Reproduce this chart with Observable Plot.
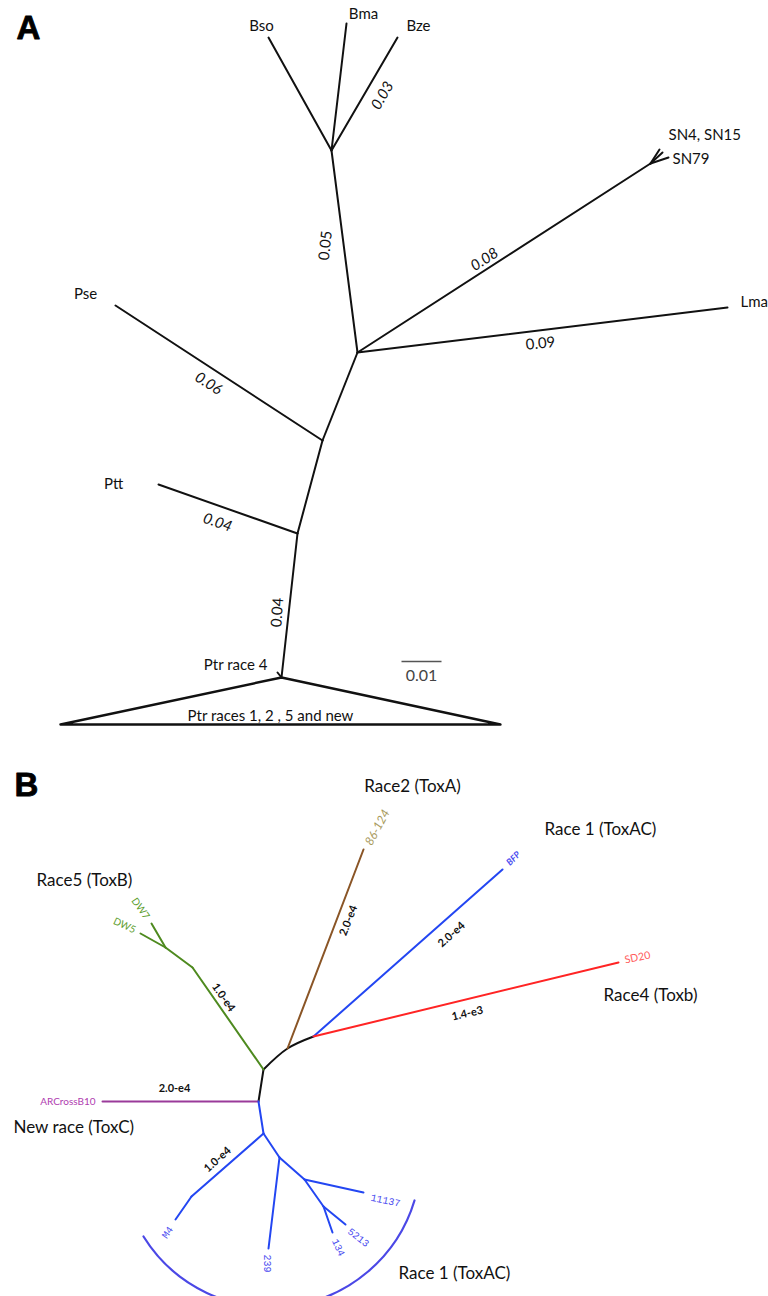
<!DOCTYPE html>
<html>
<head>
<meta charset="utf-8">
<script src="https://cdn.jsdelivr.net/npm/d3@7"></script>
<script src="https://cdn.jsdelivr.net/npm/@observablehq/plot@0.6"></script>
<style>
  html, body { margin: 0; padding: 0; background: #fff; }
  #chart { width: 768px; }
  #chart svg { display: block; }
</style>
</head>
<body>
<div id="chart"></div>
<script>
// ================= PANEL A (node positions in substitutions / site) =================
const nodesA = [
  {id: "F",    x: 0,        y: 0},
  {id: "P4",   x: -0.001,   y: 0.00125},
  {id: "E",    x: 0.004,    y: 0.036},
  {id: "Ptt",  x: -0.03075, y: 0.04825},
  {id: "D",    x: 0.01025,  y: 0.05925},
  {id: "Pse",  x: -0.0415,  y: 0.093},
  {id: "C",    x: 0.019,    y: 0.08125},
  {id: "Lma",  x: 0.1115,   y: 0.0925},
  {id: "SNf",  x: 0.09225,  y: 0.1285},
  {id: "SN4",  x: 0.0945,   y: 0.132},
  {id: "SN15", x: 0.09525,  y: 0.13125},
  {id: "SN79", x: 0.09675,  y: 0.13},
  {id: "B",    x: 0.0125,   y: 0.13175},
  {id: "Bso",  x: -0.00325, y: 0.16},
  {id: "Bma",  x: 0.01625,  y: 0.1635},
  {id: "Bze",  x: 0.029,    y: 0.16}
];
const edgesA = [
  ["F","P4"], ["F","E"], ["E","Ptt"], ["E","D"], ["D","Pse"], ["D","C"], ["C","Lma"], ["C","SNf"],
  ["SNf","SN4"], ["SNf","SN15"], ["SNf","SN79"], ["C","B"], ["B","Bso"], ["B","Bma"], ["B","Bze"]
];
// collapsed clade "Ptr races 1, 2, 5 and new"
const collapsedA = [
  {x: 0, y: 0}, {x: -0.05525, y: -0.01175}, {x: 0.05475, y: -0.01175}, {x: 0, y: 0}
];
const tipLabelsA = [
  {node: "Bso", text: "Bso"}, {node: "Bma", text: "Bma"}, {node: "Bze", text: "Bze"},
  {node: "SN4", text: "SN4, SN15"}, {node: "SN79", text: "SN79"}, {node: "Lma", text: "Lma"},
  {node: "Pse", text: "Pse"}, {node: "Ptt", text: "Ptt"}, {node: "P4", text: "Ptr race 4"},
  {node: "F", text: "Ptr races 1, 2 , 5 and new"}
];
const branchLabelsA = [
  {from: "B", to: "Bze", text: "0.03"},
  {from: "C", to: "B",   text: "0.05"},
  {from: "C", to: "SNf", text: "0.08"},
  {from: "C", to: "Lma", text: "0.09"},
  {from: "D", to: "Pse", text: "0.06"},
  {from: "E", to: "Ptt", text: "0.04"},
  {from: "F", to: "E",   text: "0.04"}
];
const scaleBarA = [{x1: 0.03, x2: 0.04, y: 0.004, text: "0.01"}];

// ================= PANEL B (layout units) =================
const nodesB = [
  {id: "R1", x: 0, y: 0}, {id: "R2", x: 24, y: 21}, {id: "R3", x: 50, y: 33},
  {id: "T86", x: 100, y: 220}, {id: "BFP", x: 239, y: 200}, {id: "SD20", x: 355, y: 107},
  {id: "Gk", x: -71, y: 102}, {id: "DWf", x: -98, y: 122}, {id: "DW7", x: -112, y: 146}, {id: "DW5", x: -123, y: 136},
  {id: "Pj", x: -5, y: -32}, {id: "ARC", x: -161, y: -32},
  {id: "N1", x: 0, y: -64}, {id: "Mk", x: -72, y: -127}, {id: "M4", x: -88, y: -150},
  {id: "N2", x: 16, y: -88}, {id: "T239", x: 5, y: -179}, {id: "N3", x: 41, y: -110},
  {id: "T11137", x: 100, y: -123}, {id: "N4", x: 60, y: -137}, {id: "T5213", x: 82, y: -155}, {id: "T134", x: 69, y: -163}
];
const backboneB = ["R1", "R2", "R3"];
const edgesB = [
  {from: "R1", to: "Pj", clade: "backbone"},
  {from: "R1", to: "Gk", clade: "Race5"}, {from: "Gk", to: "DWf", clade: "Race5"},
  {from: "DWf", to: "DW7", clade: "Race5"}, {from: "DWf", to: "DW5", clade: "Race5"},
  {from: "R2", to: "T86", clade: "Race2"},
  {from: "R3", to: "BFP", clade: "Race1"},
  {from: "R3", to: "SD20", clade: "Race4"},
  {from: "Pj", to: "ARC", clade: "New"},
  {from: "Pj", to: "N1", clade: "Race1"}, {from: "N1", to: "Mk", clade: "Race1"}, {from: "Mk", to: "M4", clade: "Race1"},
  {from: "N1", to: "N2", clade: "Race1"}, {from: "N2", to: "T239", clade: "Race1"}, {from: "N2", to: "N3", clade: "Race1"},
  {from: "N3", to: "T11137", clade: "Race1"}, {from: "N3", to: "N4", clade: "Race1"},
  {from: "N4", to: "T5213", clade: "Race1"}, {from: "N4", to: "T134", clade: "Race1"}
];
const tipLabelsB = [
  {node: "T86", text: "86-124", clade: "Race2"}, {node: "BFP", text: "BFP", clade: "Race1"},
  {node: "SD20", text: "SD20", clade: "Race4"}, {node: "DW7", text: "DW7", clade: "Race5"},
  {node: "DW5", text: "DW5", clade: "Race5"}, {node: "ARC", text: "ARCrossB10", clade: "New"},
  {node: "M4", text: "M4", clade: "Race1"}, {node: "T239", text: "239", clade: "Race1"},
  {node: "T134", text: "134", clade: "Race1"}, {node: "T5213", text: "5213", clade: "Race1"},
  {node: "T11137", text: "11137", clade: "Race1"}
];
const branchLabelsB = [
  {from: "R2", to: "T86", text: "2.0-e4"},
  {from: "R3", to: "BFP", text: "2.0-e4"},
  {from: "R3", to: "SD20", text: "1.4-e3"},
  {from: "R1", to: "Gk", text: "1.0-e4"},
  {from: "Pj", to: "ARC", text: "2.0-e4"},
  {from: "N1", to: "Mk", text: "1.0-e4"}
];
const raceLabelsB = [
  {node: "T86", text: "Race2 (ToxA)"}, {node: "BFP", text: "Race 1 (ToxAC)"},
  {node: "SD20", text: "Race4 (Toxb)"}, {node: "DW7", text: "Race5 (ToxB)"},
  {node: "ARC", text: "New race (ToxC)"}, {node: "T134", text: "Race 1 (ToxAC)"}
];
const bracketB = [{x1: -120, y1: -167, x2: 151, y2: -131}];

// ================= styles / layout (not data) =================
const cladeDomain = ["backbone", "Race5", "Race2", "Race1", "Race4", "New"];
const cladeLine   = ["#111111", "#4e8a1f", "#8a5526", "#2346f2", "#ff2424", "#9a3a9a"];
const cladeText   = {Race5: "#5e9e2e", Race2: "#a89a5c", Race1: "#4a4cf0", Race4: "#ff5a5a", New: "#b03db0"};

const tipOffA = [[-7,-11,"middle"],[17,-9,"middle"],[21,-11,"middle"],[9,-14,"start"],[4,2,"start"],
                 [13,-5,"start"],[-30,-11,"middle"],[-45,0,"middle"],[-10,-7,"end"],[-11,39,"middle"]];
const brOffA = [[18,1.5,-60,"italic"],[-19,-6,-84,"normal"],[-19.5,1.5,-33,"italic"],[-2,13.5,-6,"normal"],
                [-10.5,10.5,33,"italic"],[-10.5,13.5,19,"italic"],[-12,7,-86,"normal"]];

const tipOffB = [
  {dx: 14, dy: -22, r: -62, size: 12, font: "Lato", weight: 400, style: "italic", anchor: "middle"},
  {dx: 11, dy: -11, r: -45, size: 9, font: "Lato", weight: 700, style: "italic", anchor: "middle"},
  {dx: 19, dy: -5, r: -12, size: 10.5, font: "Lato", weight: 400, style: "normal", anchor: "middle"},
  {dx: -11, dy: -15, r: 55, size: 10, font: "Lato", weight: 400, style: "normal", anchor: "middle"},
  {dx: -16, dy: -8, r: 25, size: 10, font: "Lato", weight: 400, style: "normal", anchor: "middle"},
  {dx: -7, dy: 0, r: 0, size: 10, font: "Lato", weight: 400, style: "normal", anchor: "end"},
  {dx: -8, dy: 13, r: -55, size: 10, font: "Liberation Mono", weight: 400, style: "normal", anchor: "middle"},
  {dx: -1, dy: 15, r: 90, size: 10, font: "Liberation Mono", weight: 400, style: "normal", anchor: "middle"},
  {dx: 6, dy: 15, r: 65, size: 10, font: "Liberation Mono", weight: 400, style: "normal", anchor: "middle"},
  {dx: 13, dy: 13, r: 38, size: 10, font: "Liberation Mono", weight: 400, style: "normal", anchor: "middle"},
  {dx: 22, dy: 8, r: 12, size: 10, font: "Liberation Mono", weight: 400, style: "normal", anchor: "middle"}
];
const brOffB = [[23,-28.5,-69],[43.5,-18.5,-42],[1.5,14,-13],[-4.5,-21,55],[-6,-13,0],[-10,-5.5,-42]];
const raceOffB = [[49,-63,"middle"],[42,-40,"start"],[-15,33,"start"],[-115,-43,"start"],[-89,26,"start"],[66,41,"start"]];

// ================= build =================
const idxA = Object.fromEntries(nodesA.map(d => [d.id, d]));
const linksA = edgesA.map(([a, b]) => ({a: idxA[a], b: idxA[b]}));
const mid = (idx, d, k) => (idx[d.from][k] + idx[d.to][k]) / 2;

const plotA = Plot.plot({
  width: 768, height: 745, margin: 0,
  x: {domain: [-0.07025, 0.12175], axis: null},
  y: {domain: [-0.017, 0.16925], axis: null},
  style: {fontFamily: "Lato, sans-serif", background: "white", overflow: "visible"},
  marks: [
    Plot.link(linksA, {x1: d => d.a.x, y1: d => d.a.y, x2: d => d.b.x, y2: d => d.b.y,
      stroke: "#111", strokeWidth: 2, strokeLinecap: "round"}),
    Plot.line(collapsedA, {x: "x", y: "y", stroke: "#111", strokeWidth: 2.4}),
    Plot.link(scaleBarA, {x1: "x1", x2: "x2", y1: "y", y2: "y", stroke: "#555", strokeWidth: 1.5}),
    Plot.text(scaleBarA, {x: d => (d.x1 + d.x2) / 2, y: "y", text: "text", dy: 14, fontSize: 16, fill: "#444"}),
    ...tipLabelsA.map((t, i) => Plot.text([t], {
      x: d => idxA[d.node].x, y: d => idxA[d.node].y, text: "text",
      dx: tipOffA[i][0], dy: tipOffA[i][1], textAnchor: tipOffA[i][2], fontSize: 15, fill: "#111"})),
    ...branchLabelsA.map((t, i) => Plot.text([t], {
      x: d => mid(idxA, d, "x"), y: d => mid(idxA, d, "y"), text: "text",
      dx: brOffA[i][0], dy: brOffA[i][1], rotate: brOffA[i][2], fontStyle: brOffA[i][3], fontSize: 15, fill: "#111"})),
    Plot.text(["A"], {frameAnchor: "top-left", text: d => d, dx: 28, dy: 28, textAnchor: "middle", lineAnchor: "middle",
      fontSize: 33, fontWeight: 700, fontFamily: "Liberation Sans, Arial, sans-serif", fill: "#000", stroke: "#000", strokeWidth: 0.8})
  ]
});

const idxB = Object.fromEntries(nodesB.map(d => [d.id, d]));
const linksB = edgesB.map(e => ({...e, a: idxB[e.from], b: idxB[e.to]}));

const plotB = Plot.plot({
  width: 768, height: 551, margin: 0,
  x: {domain: [-263, 505], axis: null},
  y: {domain: [-227, 324], axis: null},
  color: {domain: cladeDomain, range: cladeLine},
  style: {fontFamily: "Lato, sans-serif", background: "white", overflow: "visible"},
  marks: [
    Plot.arrow(bracketB, {x1: "x1", y1: "y1", x2: "x2", y2: "y2", bend: -65.7, headLength: 0,
      stroke: "#4b48e6", strokeWidth: 2.2}),
    Plot.line(backboneB.map(id => idxB[id]), {x: "x", y: "y", curve: "catmull-rom", stroke: "#111", strokeWidth: 2}),
    Plot.link(linksB, {x1: d => d.a.x, y1: d => d.a.y, x2: d => d.b.x, y2: d => d.b.y,
      stroke: "clade", strokeWidth: 2, strokeLinecap: "round"}),
    ...tipLabelsB.map((t, i) => Plot.text([t], {
      x: d => idxB[d.node].x, y: d => idxB[d.node].y, text: "text",
      dx: tipOffB[i].dx, dy: tipOffB[i].dy, rotate: tipOffB[i].r, textAnchor: tipOffB[i].anchor,
      fontSize: tipOffB[i].size, fontFamily: tipOffB[i].font, fontWeight: tipOffB[i].weight,
      fontStyle: tipOffB[i].style, fill: cladeText[t.clade]})),
    ...branchLabelsB.map((t, i) => Plot.text([t], {
      x: d => mid(idxB, d, "x"), y: d => mid(idxB, d, "y"), text: "text",
      dx: brOffB[i][0], dy: brOffB[i][1], rotate: brOffB[i][2], fontSize: 11, fontWeight: 700, fill: "#111"})),
    ...raceLabelsB.map((t, i) => Plot.text([t], {
      x: d => idxB[d.node].x, y: d => idxB[d.node].y, text: "text",
      dx: raceOffB[i][0], dy: raceOffB[i][1], textAnchor: raceOffB[i][2], fontSize: 17, fill: "#111"})),
    Plot.text(["B"], {frameAnchor: "top-left", text: d => d, dx: 26, dy: 40, textAnchor: "middle", lineAnchor: "middle",
      fontSize: 33, fontWeight: 700, fontFamily: "Liberation Sans, Arial, sans-serif", fill: "#000", stroke: "#000", strokeWidth: 0.8})
  ]
});

document.getElementById("chart").append(plotA, plotB);
</script>
</body>
</html>
